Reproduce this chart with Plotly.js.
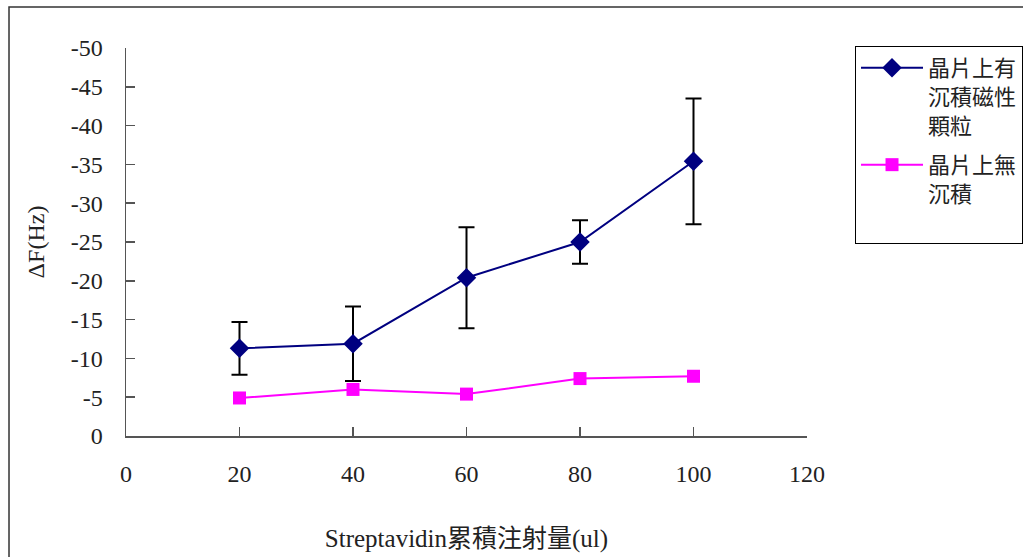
<!DOCTYPE html>
<html>
<head>
<meta charset="utf-8">
<script src="https://cdn.plot.ly/plotly-3.0.1.min.js"></script>
<style>
html,body{margin:0;padding:0;background:#fff;}
#chart{width:1023px;height:557px;}
</style>
</head>
<body>
<div id="chart"></div>
<script>
// Data
const volumes = [20, 40, 60, 80, 100];
const withBeads = [-11.3, -11.9, -20.4, -25.0, -35.4];
const withBeadsErr = [3.4, 4.8, 6.5, 2.8, 8.1];
const noDeposit = [-4.9, -6.0, -5.4, -7.4, -7.7];
const seriesNames = ["晶片上有<br>沉積磁性<br>顆粒", "晶片上無<br>沉積<br> "];
const xTickVals = [0, 20, 40, 60, 80, 100, 120];
const xTickText = ["0", "20", "40", "60", "80", "100", "120"];
const yTickVals = [0, -5, -10, -15, -20, -25, -30, -35, -40, -45, -50];
const yTickText = ["0", "-5", "-10", "-15", "-20", "-25", "-30", "-35", "-40", "-45", "-50"];

const serif = "Liberation Serif";
const mixed = "Liberation Serif, Noto Sans CJK TC";
const cjk = "Noto Sans CJK TC";

const traces = [
  {
    x: volumes, y: withBeads, name: seriesNames[0], legendgroup: "a",
    type: "scatter", mode: "lines+markers",
    line: {color: "#000080", width: 2},
    marker: {symbol: "diamond", size: 15, color: "#000080"},
    error_y: {type: "data", array: withBeadsErr, visible: true, color: "#000000", thickness: 2, width: 8}
  },
  {
    x: volumes, y: noDeposit, name: seriesNames[1], legendgroup: "b",
    type: "scatter", mode: "lines+markers",
    line: {color: "#FF00FF", width: 2},
    marker: {symbol: "square", size: 13, color: "#FF00FF"}
  }
];

const layout = {
  width: 1023, height: 557,
  margin: {l: 126, r: 216, t: 48, b: 121, pad: 0, autoexpand: false},
  paper_bgcolor: "#ffffff", plot_bgcolor: "#ffffff",
  font: {family: serif, size: 24, color: "#222222"},
  showlegend: true,
  xaxis: {
    range: [0, 120], tickvals: xTickVals, ticktext: xTickText,
    showgrid: false, zeroline: false, showline: true, linecolor: "#555555", linewidth: 1.5,
    ticks: "inside", ticklen: 9, tickwidth: 1.5, tickcolor: "#555555",
    ticklabelstandoff: 16,
    tickfont: {family: serif, size: 24, color: "#222222"},
    title: {text: "Streptavidin累積注射量(ul)", font: {family: mixed, size: 25, color: "#222222"}, standoff: 43},
    automargin: false
  },
  yaxis: {
    range: [0, -50], tickvals: yTickVals, ticktext: yTickText,
    showgrid: false, zeroline: false, showline: true, linecolor: "#555555", linewidth: 1.5,
    ticks: "inside", ticklen: 9, tickwidth: 1.5, tickcolor: "#555555",
    ticklabelstandoff: 17,
    tickfont: {family: serif, size: 24, color: "#222222"},
    title: {text: "ΔF(Hz)", font: {family: serif, size: 24, color: "#222222"}, standoff: 19},
    automargin: false
  },
  legend: {
    x: 1.0705, y: 1.005, xanchor: "left", yanchor: "top",
    bordercolor: "#000000", borderwidth: 1, bgcolor: "#ffffff",
    font: {family: cjk, size: 22, color: "#222222"},
    valign: "top", traceorder: "grouped", tracegroupgap: 8,
    itemwidth: 62
  },
  shapes: [
    {type: "rect", xref: "paper", yref: "paper", x0: -0.1718, x1: 1.6, y0: -0.6, y1: 1.1057,
     line: {color: "#333333", width: 1.5}, fillcolor: "rgba(0,0,0,0)", layer: "below"}
  ]
};

Plotly.newPlot("chart", traces, layout, {displayModeBar: false, staticPlot: true});
</script>
</body>
</html>
